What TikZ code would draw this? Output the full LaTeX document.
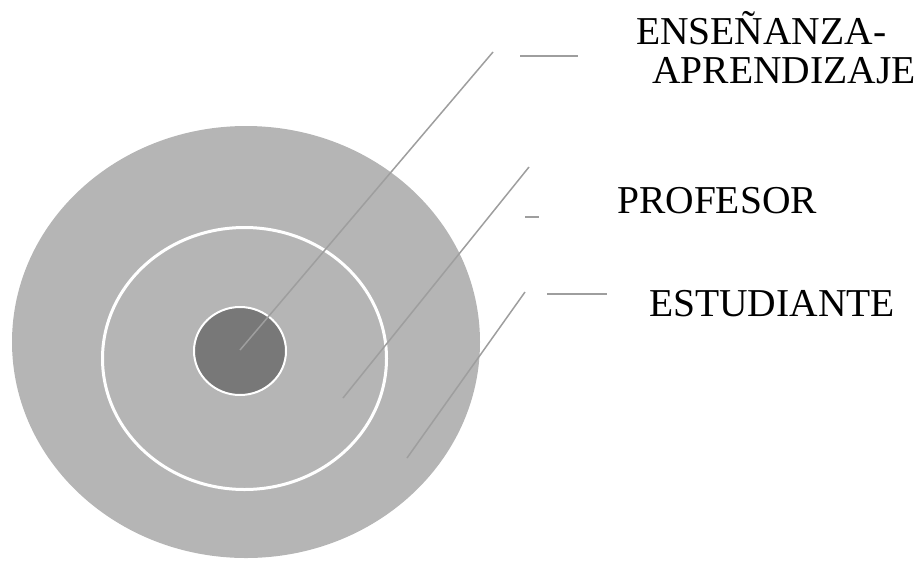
\documentclass[tikz,border=0pt]{standalone}
\usepackage{fontspec}
\setmainfont{Liberation Serif}
\usetikzlibrary{positioning}
\definecolor{disco}{HTML}{B5B5B5}
\definecolor{nucleo}{HTML}{787878}
\definecolor{guia}{HTML}{9E9E9E}

\begin{document}
\begin{tikzpicture}[x=1pt,y=-1pt,
	rotulo/.style={font=\fontsize{39.5}{39}\selectfont, inner sep=0pt, anchor=base west},
	linea/.style={draw=guia, line width=1.5pt}]
	
	\useasboundingbox (0,0) rectangle (920,560);
	
	\fill[disco] (246,342) ellipse [x radius=234, y radius=216];
	\draw[white, line width=3pt] (244.5,358.5) ellipse [x radius=142, y radius=131];
	\filldraw[fill=nucleo, draw=white, line width=2pt] (240,351) ellipse [x radius=46, y radius=44];
	
	\coordinate (N) at (240,350);
	\coordinate (N1) at (493,52);
	\coordinate (P) at (343,398);
	\coordinate (P1) at (529,167);
	\coordinate (E) at (407,458);
	\coordinate (E1) at (525,292);
	
	\coordinate (A1) at (520,56);
	\coordinate (A2) at (578,56);
	\coordinate (B1) at (525,217);
	\coordinate (B2) at (539,217);
	\coordinate (C1) at (547,294);
	\coordinate (C2) at (607,294);
	
	\node [rotulo] (ens) at (636,44){ENSEÑANZA-};
	\node [rotulo] (apr) at (652,83){APRENDIZAJE};
	\node [rotulo] (prof) at (617,213){PROFESOR};
	\node [rotulo] (est) at (649,316){ESTUDIANTE};
	
	\draw[linea] (N) -- (N1);
	\draw[linea] (P) -- (P1);
	\draw[linea] (E) -- (E1);
	\draw[linea] (A1) -- (A2);
	\draw[linea] (B1) -- (B2);
	\draw[linea] (C1) -- (C2);
	
\end{tikzpicture}
\end{document}
